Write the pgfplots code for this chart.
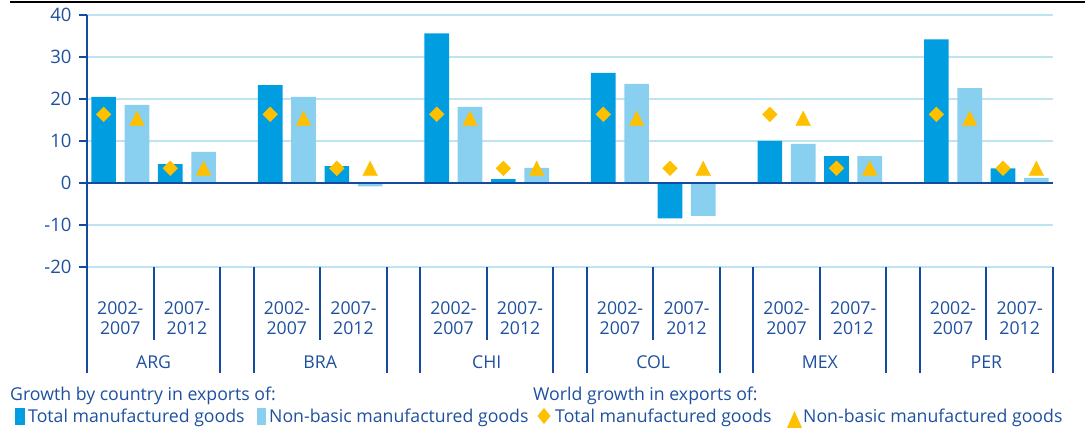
\documentclass[border=0pt]{standalone}
\usepackage{pgfplots}
\pgfplotsset{compat=1.18}
\usepackage{fontspec}
\setmainfont{Open Sans}

\definecolor{txt}{RGB}{30,80,160}
\definecolor{axisblue}{RGB}{20,75,160}
\definecolor{darkbar}{RGB}{0,158,224}
\definecolor{lightbar}{RGB}{137,207,240}
\definecolor{gold}{RGB}{255,192,0}
\definecolor{gridc}{RGB}{190,228,242}

\newcommand\fs{\fontsize{17.7}{20}\selectfont}

\begin{document}
\begin{tikzpicture}[x=1pt,y=1pt]
\useasboundingbox (0,0) rectangle (1085,435);
\draw[black,line width=2.2pt] (10,433) -- (1085,433);

\begin{axis}[
  at={(87pt,168pt)}, anchor=south west,
  scale only axis, width=966pt, height=252pt,
  xmin=-0.5, xmax=28.5, ymin=-20, ymax=40,
  axis x line=none, axis y line=left,
  y axis line style={-, line width=2.6pt, axisblue},
  xtick=\empty,
  ytick={-20,-10,...,40},
  tick align=outside, major tick length=8pt,
  ytick style={axisblue, line width=2pt},
  yticklabel style={font=\fontsize{18.5}{20}\selectfont, text=txt, xshift=-4pt,
    /pgf/number format/assume math mode=true},
  ymajorgrids, major grid style={gridc, line width=1.2pt},
  clip=false,
]
% growth by country: total manufactured goods
\addplot[ybar, bar width=0.74, bar shift=0pt, fill=darkbar, draw=none]
  coordinates {(0,20.5) (2,4.5) (5,23.3) (7,4.0) (10,35.6) (12,0.9)
               (15,26.2) (17,-8.4) (20,10.0) (22,6.4) (25,34.2) (27,3.5)};
% growth by country: non-basic manufactured goods
\addplot[ybar, bar width=0.74, bar shift=0pt, fill=lightbar, draw=none]
  coordinates {(1,18.6) (3,7.4) (6,20.5) (8,-0.8) (11,18.1) (13,3.6)
               (16,23.6) (18,-7.8) (21,9.3) (23,6.4) (26,22.6) (28,1.2)};

\draw[axisblue, line width=2pt] (axis cs:-0.5,0) -- (axis cs:28.5,0);

% world growth
\addplot[only marks, color=gold, mark=square*, mark size=5.2pt,
  mark options={rotate=45, fill=gold, draw=gold}]
  coordinates {(0,16.35) (2,3.5) (5,16.35) (7,3.5) (10,16.35) (12,3.5)
               (15,16.35) (17,3.5) (20,16.35) (22,3.5) (25,16.35) (27,3.5)};
\addplot[only marks, color=gold, mark=triangle*, mark size=8.5pt,
  mark options={yscale=1.15, fill=gold, draw=gold}]
  coordinates {(1,14.8) (3,2.9) (6,14.8) (8,2.9) (11,14.8) (13,2.9)
               (16,14.8) (18,2.9) (21,14.8) (23,2.9) (26,14.8) (28,2.9)};

% category axis: separators and labels
\pgfplotsinvokeforeach{0,...,5}{
  \draw[axisblue, line width=2pt] (axis cs:5*#1-0.5,-20) -- (axis cs:5*#1-0.5,-45.24);
  \draw[axisblue, line width=2pt] (axis cs:5*#1+3.5,-20) -- (axis cs:5*#1+3.5,-45.24);
  \draw[axisblue, line width=2pt] (axis cs:5*#1+1.5,-20) -- (axis cs:5*#1+1.5,-37.4);
  \node[align=center, text=txt, font=\fs, inner sep=0pt] at (axis cs:5*#1+0.5,-32.3) {2002-\\2007};
  \node[align=center, text=txt, font=\fs, inner sep=0pt] at (axis cs:5*#1+2.5,-32.3) {2007-\\2012};
}
\node[anchor=base, text=txt, font=\fs, inner sep=0pt] at (axis cs:1.5,-44.05) {ARG};
\node[anchor=base, text=txt, font=\fs, inner sep=0pt] at (axis cs:6.5,-44.05) {BRA};
\node[anchor=base, text=txt, font=\fs, inner sep=0pt] at (axis cs:11.5,-44.05) {CHI};
\node[anchor=base, text=txt, font=\fs, inner sep=0pt] at (axis cs:16.5,-44.05) {COL};
\node[anchor=base, text=txt, font=\fs, inner sep=0pt] at (axis cs:21.5,-44.05) {MEX};
\node[anchor=base, text=txt, font=\fs, inner sep=0pt] at (axis cs:26.5,-44.05) {PER};
\end{axis}

% legend
\begin{scope}[every node/.style={anchor=base west, text=txt, font=\fs, inner sep=0pt}]
\node at (10,34.3) {Growth by country in exports of:};
\node at (533,34.3) {World growth in exports of:};
\fill[darkbar] (15,10) rectangle (25,27);
\node at (28,12.3) {Total manufactured goods};
\fill[lightbar] (257,10) rectangle (266,27);
\node at (269,12.3) {Non-basic manufactured goods};
\fill[gold] (544,27) -- (550.5,19) -- (544,11) -- (537.5,19) -- cycle;
\node at (555,12.3) {Total manufactured goods};
\fill[gold] (787,7) -- (802,7) -- (794.5,24) -- cycle;
\node at (803,12.3) {Non-basic manufactured goods};
\end{scope}
\end{tikzpicture}
\end{document}
